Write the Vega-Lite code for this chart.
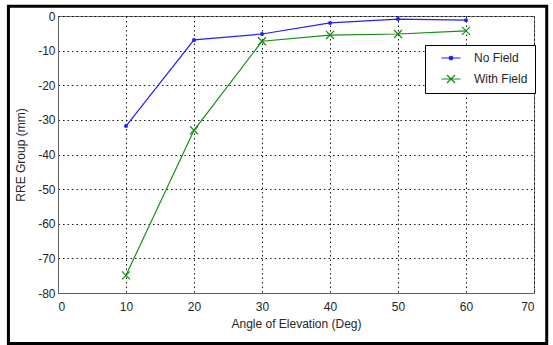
{
  "$schema": "https://vega.github.io/schema/vega-lite/v6.json",
  "width": 476,
  "height": 277,
  "autosize": {"type": "none"},
  "padding": {"left": 58, "top": 16, "right": 19, "bottom": 52},
  "background": "white",
  "config": {
    "font": "Liberation Sans",
    "view": {"stroke": "#707070", "strokeWidth": 1},
    "axis": {
      "labelFont": "Liberation Sans",
      "labelFontSize": 12,
      "labelColor": "#262626",
      "labelOverlap": false,
      "labelExpr": "'' + datum.value",
      "titleFont": "Liberation Sans",
      "titleFontSize": 12,
      "titleFontWeight": "normal",
      "titleColor": "#262626",
      "domainColor": "#606060",
      "grid": true,
      "gridColor": "black",
      "gridDash": [1.5, 3],
      "gridOpacity": 0.9,
      "gridWidth": 1,
      "ticks": false
    }
  },
  "data": {
    "values": [
      {"angle": 10, "rre": -31.8, "series": "No Field"},
      {"angle": 20, "rre": -6.9, "series": "No Field"},
      {"angle": 30, "rre": -5.2, "series": "No Field"},
      {"angle": 40, "rre": -2.0, "series": "No Field"},
      {"angle": 50, "rre": -0.9, "series": "No Field"},
      {"angle": 60, "rre": -1.2, "series": "No Field"},
      {"angle": 10, "rre": -74.9, "series": "With Field"},
      {"angle": 20, "rre": -33.0, "series": "With Field"},
      {"angle": 30, "rre": -7.3, "series": "With Field"},
      {"angle": 40, "rre": -5.5, "series": "With Field"},
      {"angle": 50, "rre": -5.2, "series": "With Field"},
      {"angle": 60, "rre": -4.3, "series": "With Field"}
    ]
  },
  "layer": [
    {
      "data": {"values": [{}]},
      "mark": {"type": "rect", "filled": false, "stroke": "black", "strokeWidth": 3, "clip": false},
      "encoding": {
        "x": {"datum": -7.29, "type": "quantitative", "scale": {"domain": [0, 70], "nice": false, "zero": false},
              "axis": {"values": [0, 10, 20, 30, 40, 50, 60, 70], "title": "Angle of Elevation (Deg)", "labelPadding": 8, "titlePadding": 6}},
        "x2": {"datum": 71.87},
        "y": {"datum": 2.8, "type": "quantitative", "scale": {"domain": [-80, 0], "nice": false},
              "axis": {"values": [-80, -70, -60, -50, -40, -30, -20, -10, 0], "title": "RRE Group (mm)", "labelPadding": 3, "titlePadding": 10}},
        "y2": {"datum": -94.6}
      }
    },
    {
      "mark": {"type": "line", "strokeWidth": 1.2},
      "encoding": {
        "x": {
          "field": "angle",
          "type": "quantitative",
          "scale": {"domain": [0, 70], "nice": false, "zero": false},
          "axis": {"values": [0, 10, 20, 30, 40, 50, 60, 70], "title": "Angle of Elevation (Deg)", "labelPadding": 8, "titlePadding": 6}
        },
        "y": {
          "field": "rre",
          "type": "quantitative",
          "scale": {"domain": [-80, 0], "nice": false},
          "axis": {"values": [-80, -70, -60, -50, -40, -30, -20, -10, 0], "title": "RRE Group (mm)", "labelPadding": 3, "titlePadding": 10}
        },
        "color": {
          "field": "series",
          "type": "nominal",
          "scale": {"domain": ["No Field", "With Field"], "range": ["#1f1fff", "#168c16"]},
          "legend": {
            "title": null,
            "orient": "none",
            "legendX": 367,
            "legendY": 29,
            "strokeColor": "black",
            "fillColor": "white",
            "padding": 7,
            "rowPadding": 8,
            "symbolSize": 100,
            "symbolOffset": 13,
            "labelOffset": 17,
            "labelFont": "Liberation Sans",
            "labelFontSize": 12,
            "labelColor": "#262626",
            "encode": {
              "symbols": {
                "update": {
                  "shape": {"signal": "datum.value === 'No Field' ? 'M-1.9,0H1.9M-0.35,0A0.35,0.35 0 1 1 0.35,0A0.35,0.35 0 1 1 -0.35,0Z' : 'M-1.9,0H1.9M-0.8,-0.8L0.8,0.8M-0.8,0.8L0.8,-0.8'"},
                  "stroke": {"signal": "datum.value === 'No Field' ? '#1f1fff' : '#168c16'"},
                  "fill": {"signal": "datum.value === 'No Field' ? '#1f1fff' : 'transparent'"},
                  "strokeWidth": {"value": 1.2},
                  "opacity": {"value": 1}
                }
              }
            }
          }
        }
      }
    },
    {
      "transform": [{"filter": "datum.series === 'No Field'"}],
      "mark": {"type": "point", "shape": "circle", "filled": true, "size": 16, "color": "#1f1fff", "opacity": 1},
      "encoding": {
        "x": {"field": "angle", "type": "quantitative",
              "axis": {"values": [0, 10, 20, 30, 40, 50, 60, 70], "title": "Angle of Elevation (Deg)", "labelPadding": 8, "titlePadding": 6}},
        "y": {"field": "rre", "type": "quantitative",
              "axis": {"values": [-80, -70, -60, -50, -40, -30, -20, -10, 0], "title": "RRE Group (mm)", "labelPadding": 3, "titlePadding": 10}}
      }
    },
    {
      "transform": [{"filter": "datum.series === 'With Field'"}],
      "mark": {"type": "point", "shape": "M-1,-1L1,1M-1,1L1,-1", "filled": false, "size": 64, "color": "#168c16", "strokeWidth": 1.2, "opacity": 1},
      "encoding": {
        "x": {"field": "angle", "type": "quantitative",
              "axis": {"values": [0, 10, 20, 30, 40, 50, 60, 70], "title": "Angle of Elevation (Deg)", "labelPadding": 8, "titlePadding": 6}},
        "y": {"field": "rre", "type": "quantitative",
              "axis": {"values": [-80, -70, -60, -50, -40, -30, -20, -10, 0], "title": "RRE Group (mm)", "labelPadding": 3, "titlePadding": 10}}
      }
    }
  ]
}
